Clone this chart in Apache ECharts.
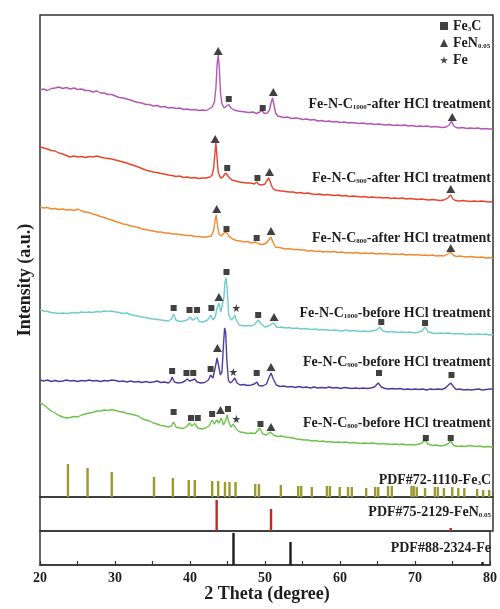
<!DOCTYPE html>
<html><head><meta charset="utf-8">
<script src="https://cdn.jsdelivr.net/npm/echarts@6/dist/echarts.min.js"></script>
<style>html,body{margin:0;padding:0;background:#fff}#c{width:500px;height:609px}</style>
</head><body><div id="c"></div>
<script>
// 2θ (degree) vs offset intensity (a.u.)
const c1000After = [[20,407],[20.5,408],[21,406.5],[21.5,408.5],[22,409],[22.5,410],[23,408.5],[23.5,409.5],[24,408],[24.5,409],[25,407.5],[25.5,408],[26,406.5],[26.5,406.5],[27,405],[27.5,406],[28,404],[28.5,404],[29,402.5],[29.5,402.5],[30,401],[30.5,399.5],[31,399],[31.5,398],[32,397],[32.5,395.5],[33,394.5],[33.5,394],[34,392.5],[34.5,392.5],[35,391],[35.5,391.5],[36,390],[36.5,390.5],[37,389],[37.5,389.5],[38,388.5],[38.5,389],[39,387.5],[39.5,388],[40,387],[40.5,387.5],[41,386.5],[41.5,387],[42,386.5],[42.5,388.5],[42.8,390],[43.1,395],[43.3,409],[43.45,432],[43.6,442],[43.75,429],[43.9,405],[44.1,393],[44.4,389],[44.7,391],[45,392.5],[45.3,389],[45.7,387],[46.2,386],[46.7,385.5],[47.2,385],[47.7,384.5],[48.2,385],[48.7,383.5],[49.1,385],[49.4,386.5],[49.7,383.5],[50.1,384],[50.4,387],[50.6,394],[50.8,399],[51,392],[51.2,384],[51.5,381],[51.8,380.5],[52.3,379.5],[52.8,380],[53.3,378.5],[53.8,379],[54.3,378.5],[54.8,377.5],[55.3,378],[55.8,377],[56.3,377.5],[56.8,376],[57.3,376.5],[57.8,375.5],[58.3,376],[58.8,375],[59.3,375.5],[59.8,374.5],[60.3,375],[60.8,374],[61.3,374.5],[61.8,374],[62.3,373.5],[62.8,374],[63.3,373],[63.8,373.5],[64.3,372.5],[64.8,373],[65.3,372.5],[65.8,372],[66.3,372.5],[66.8,371.5],[67.3,372],[67.8,371.5],[68.3,372],[68.8,371],[69.3,371.5],[69.8,370.5],[70.3,371],[70.8,370.5],[71.3,371],[71.8,370],[72.3,370.5],[72.8,370],[73.3,369.5],[73.8,370],[74.2,372],[74.5,376],[74.8,371],[75.1,369.5],[75.5,369],[76,369.5],[76.5,368.5],[77,369],[77.5,368.5],[78,369],[78.5,368],[79,368.5],[79.5,368],[80,368]];
const c900After = [[20,350],[20.5,349],[21,348],[21.5,346.5],[22,346],[22.5,344],[23,343],[23.5,341.5],[24,340],[24.5,341],[25,340],[25.5,340.5],[26,339.5],[26.5,340.5],[27,340],[27.5,341],[28,340],[28.5,339],[29,338.5],[29.5,338],[30,337],[30.5,336],[31,335],[31.5,334],[32,332.5],[32.5,331.5],[33,330],[33.5,328.5],[34,327],[34.5,326],[35,325],[35.5,324.5],[36,323.5],[36.5,323],[37,322],[37.5,321.5],[38,320.5],[38.5,321],[39,319.5],[39.5,320],[40,319],[40.5,319.5],[41,318.5],[41.5,319],[42,319],[42.5,320],[42.8,322],[43,329],[43.15,342],[43.3,354],[43.45,339],[43.6,325],[43.9,319],[44.2,320],[44.6,324],[45,320],[45.4,317],[45.9,316],[46.4,315],[46.9,314.5],[47.4,314],[47.9,314],[48.4,313],[48.7,315],[49,312.5],[49.4,312],[49.8,313],[50,316],[50.3,319],[50.5,315],[50.8,309],[51.1,307],[51.5,306.5],[52,306],[52.5,305.5],[53,305],[53.5,305],[54,304],[54.5,304.5],[55,303.5],[55.5,304],[56,303],[56.5,302.5],[57,303],[57.5,302],[58,302.5],[58.5,302],[59,301.5],[59.5,302],[60,301],[60.5,301.5],[61,300.5],[61.5,301],[62,300.5],[62.5,300],[63,300.5],[63.5,299.5],[64,300],[64.5,299.5],[65,299.5],[65.5,299],[66,299.5],[66.5,298.5],[67,299],[67.5,298.5],[68,299],[68.5,298],[69,298.5],[69.5,298],[70,297.5],[70.5,298],[71,297.5],[71.5,297],[72,297.5],[72.5,297],[73,296.5],[73.5,297],[74,299],[74.4,302],[74.7,298],[75,296.5],[75.5,296],[76,296.5],[76.5,296],[77,295.5],[77.5,296],[78,295.5],[78.5,296],[79,295.5],[79.5,295],[80,295.5]];
const c800After = [[20,290],[20.5,289],[21,289.5],[21.5,288],[22,288.5],[22.5,287.5],[23,288],[23.5,287],[24,287.5],[24.5,286.5],[25,288],[25.5,286],[26,285],[26.5,284.5],[27,283],[27.5,282],[28,280.5],[28.5,279.5],[29,278],[29.5,277],[30,275.5],[30.5,274.5],[31,273],[31.5,272.5],[32,271],[32.5,270.5],[33,269.5],[33.5,268],[34,267.5],[34.5,266.5],[35,266],[35.5,265],[36,265],[36.5,264],[37,264],[37.5,263],[38,263],[38.5,262.5],[39,262],[39.5,261.5],[40,261.5],[40.5,260.5],[41,260.5],[41.5,260],[42,260],[42.7,261],[43,267],[43.2,277],[43.35,282],[43.5,272],[43.7,263],[44,261],[44.4,264],[44.7,265],[45,261],[45.5,258],[46,256.5],[46.5,256],[47,255],[47.5,255.5],[48,254],[48.6,255],[49,253],[49.5,252.5],[50,254],[50.3,257],[50.6,260],[50.9,254],[51.2,250],[51.6,249.5],[52,249],[52.5,248],[53,248.5],[53.5,247.5],[54,247.5],[54.5,247],[55,247],[55.5,246],[56,246.5],[56.5,245.5],[57,246],[57.5,245],[58,245.5],[58.5,245],[59,245.5],[59.5,244.5],[60,245],[60.5,244],[61,244.5],[61.5,244],[62,244.5],[62.5,243.5],[63,244],[63.5,243.5],[64,244],[64.5,243],[65,243.5],[65.5,243],[66,243.5],[66.5,242.5],[67,243],[67.5,242.5],[68,243],[68.5,242],[69,242.5],[69.5,242],[70,242.5],[70.5,241.5],[71,242],[71.5,241.5],[72,242],[72.5,241],[73,241.5],[73.5,241],[74,243],[74.4,245],[74.8,241.5],[75.2,240.5],[75.6,241],[76,240.5],[76.5,240],[77,240.5],[77.5,240],[78,239.5],[78.5,240],[79,239],[79.5,239.5],[80,239]];
const c1000Before = [[20,187],[20.5,186],[21,185.5],[21.5,184.5],[22,184],[22.5,183.5],[23,184],[23.5,183.5],[24,184],[24.5,184.5],[25,184],[25.5,185],[26,184.5],[26.5,185],[27,184.5],[27.5,185.5],[28,185],[28.5,186],[29,185.5],[29.5,186],[30,185],[30.5,184.5],[31,183.5],[31.5,184],[32,182.5],[32.5,181.5],[33,181],[33.5,180],[34,179.5],[34.5,178.5],[35,178],[35.5,177.5],[36,177],[36.5,176.5],[37,176],[37.4,178],[37.7,183],[38,177],[38.5,175.5],[39,176],[39.5,177],[39.9,180],[40.2,177],[40.5,178],[40.8,180],[41.1,175.5],[41.6,175],[42.2,177],[42.6,182],[42.9,177],[43.2,180],[43.45,189],[43.7,194],[43.95,185],[44.15,183],[44.35,199],[44.5,215],[44.65,219],[44.8,207],[45,182],[45.3,177],[45.6,179],[45.8,182],[46,177],[46.4,172],[47,171],[47.5,171.5],[48,171],[48.5,173],[48.9,177],[49.3,173],[49.8,170],[50.3,171],[50.9,174],[51.4,169.5],[52,170],[52.5,169],[53,169.5],[53.5,168.5],[54,169],[54.5,168],[55,168.5],[55.5,168],[56,167.5],[56.5,168],[57,167],[57.5,167.5],[58,167],[58.5,166.5],[59,167],[59.5,166.5],[60,166],[60.5,167],[61,166],[61.5,166.5],[62,166],[62.5,165.5],[63,166],[63.5,165.5],[64,166],[64.6,167],[65,170],[65.4,166],[66,165],[66.5,165.5],[67,165],[67.5,164.5],[68,165],[68.5,164.5],[69,165],[69.5,164],[70,164.5],[70.6,166],[71,170],[71.4,165],[72,164],[72.5,163.5],[73,164],[73.5,163.5],[74,164],[74.5,163.5],[75,163],[75.5,163.5],[76,163],[76.5,162.5],[77,163],[77.5,162.5],[78,163],[78.5,162.5],[79,163],[79.5,162],[80,162.5]];
const c900Before = [[20,117],[20.5,116],[21,117],[21.5,115.5],[22,116.5],[22.5,115.5],[23,116],[23.5,117],[24,116],[24.5,116.5],[25,115.5],[25.5,116.5],[26,116],[26.5,117],[27,116],[27.5,116.5],[28,115.5],[28.5,116.5],[29,116],[29.5,117],[30,116.5],[30.5,115.5],[31,116],[31.5,115],[32,116],[32.5,115],[33,115.5],[33.5,114.5],[34,115.5],[34.5,114.5],[35,115],[35.5,116],[36,114.5],[36.5,115],[37,114],[37.3,116],[37.5,120],[37.8,115],[38.3,114],[38.8,114.5],[39.2,116],[39.5,118],[39.8,116],[40.2,117],[40.5,118],[40.8,115],[41.3,114],[41.8,114.5],[42.3,117],[42.6,122],[42.9,119],[43.2,129],[43.45,139],[43.65,137],[43.9,122],[44.1,125],[44.3,152],[44.45,169],[44.6,164],[44.75,137],[44.95,117],[45.2,114],[45.5,116],[45.8,119],[46.1,114],[46.5,112],[47,112.5],[47.5,111.5],[48,112],[48.4,113],[48.7,115],[49,111.5],[49.5,111],[50,113],[50.3,119],[50.6,124],[50.9,118],[51.3,112],[51.8,110.5],[52.3,111],[52.8,110],[53.3,110.5],[53.8,109.5],[54.3,110.5],[54.8,109.5],[55.3,110],[55.8,109],[56.3,110],[56.8,109],[57.3,109.5],[57.8,109],[58.3,110],[58.8,109],[59.3,109.5],[59.8,108.5],[60.3,109.5],[60.8,109],[61.3,108.5],[61.8,109],[62.3,108.5],[62.8,109],[63.3,108.5],[63.8,109],[64.3,110],[64.8,114],[65.2,110],[65.7,108.5],[66.2,108],[66.7,108.5],[67.2,108],[67.7,108.5],[68.2,107.5],[68.7,108],[69.2,107.5],[69.7,108],[70.2,107.5],[70.7,108],[71.2,107],[71.7,108],[72.2,107.5],[72.7,108],[73.2,107.5],[73.7,109],[74.1,112],[74.4,114],[74.7,111],[75.1,107.5],[75.6,108],[76.1,107],[76.6,107.5],[77.1,107],[77.6,107.5],[78.1,108],[78.6,107],[79.1,107.5],[79.6,108],[80,108]];
const c800Before = [[20,94],[20.3,93],[20.7,91],[21,89],[21.5,86],[22,84],[22.5,81.5],[23,80],[23.5,79],[24,79.5],[24.5,80.5],[25,80],[25.5,82],[26,83],[26.5,84],[27,84.5],[27.5,86],[28,86],[28.5,87],[29,86.5],[29.5,87.5],[30,86.5],[30.5,85.5],[31,85],[31.5,83.5],[32,83],[32.5,82],[33,81],[33.5,78.5],[34,77],[34.5,76],[35,74],[35.5,73],[36,71.5],[36.5,71],[37,70],[37.4,71],[37.7,75],[38,70],[38.5,69],[39,68.5],[39.5,71],[39.8,74],[40.1,71],[40.5,73.5],[40.9,69],[41.4,68],[41.9,69],[42.4,71],[42.8,77],[43.1,73],[43.4,77],[43.7,74],[44,79],[44.3,72],[44.6,77],[44.8,82],[45,75],[45.3,70],[45.6,73],[45.8,75],[46.1,67],[46.5,65],[47,64.5],[47.5,63.5],[48,64],[48.5,63.5],[49.1,69],[49.5,63],[50,62],[50.5,65],[51,61.5],[51.5,60.5],[52,61],[52.5,60],[53,59.5],[53.5,59],[54,58],[54.5,57.5],[55,57],[55.5,57],[56,56],[56.5,56.5],[57,55.5],[57.5,56],[58,55],[58.5,55.5],[59,54.5],[59.5,55],[60,54.5],[60.5,55],[61,54],[61.5,54.5],[62,54],[62.5,53.5],[63,54],[63.5,53.5],[64,54],[64.5,53.5],[65,53],[65.5,53.5],[66,53],[66.5,52.5],[67,53],[67.5,52.5],[68,53],[68.5,52],[69,52.5],[69.5,52],[70,52.5],[70.6,54],[71,57],[71.4,53],[72,51.5],[72.5,52],[73,51],[73.5,51.5],[74,53],[74.4,56],[74.8,51.5],[75.3,50.5],[75.8,51],[76.3,50.5],[76.8,51.5],[77.3,51],[77.8,50.5],[78.3,51],[78.8,50],[79.3,50.5],[79.8,50],[80,50]];

// phase markers [2θ, height]
const fe3cMarks = [[45.0,398],[49.5,389],[44.8,329],[48.8,319],[44.7,268],[48.7,259],
  [37.7,189],[39.8,187],[40.8,187],[42.7,189],[44.7,225],[48.9,182],[65.2,175],[71.0,174],
  [37.5,126],[39.4,124],[40.3,124],[42.6,128],[48.7,124],[64.9,124],[74.5,122],
  [37.7,85],[40.0,79],[40.9,79],[42.8,83],[44.9,88],[49.2,73],[71.1,59],[74.4,59]];
const feNMarks = [[43.6,446],[50.9,405],[74.6,380],[43.2,358],[50.4,325],[74.4,308],[43.4,288],[50.6,266],[74.4,249],
  [43.7,200],[51.0,180],[43.5,149],[50.6,130],[43.9,87],[50.6,70]];
const feMarks = [[46.0,189],[45.6,125],[46.0,78]];

// reference patterns [2θ, relative height]
const pdfFe3C = [[23.7,33],[26.3,29],[29.5,25],[35.1,20],[37.6,19],[39.7,17],[40.5,17],[42.8,16],[43.6,16],[44.5,15],[45.1,15],[45.9,15],[48.5,13],[49.0,13],[51.9,12],[54.2,11],[54.6,11],[56.0,10],[58.0,11],[58.4,11],[59.7,10],[60.8,10],[61.3,10],[63.2,9],[64.4,10],[64.8,10],[66.1,11],[66.6,11],[69.2,11],[69.5,11],[69.9,10],[71.0,9],[72.3,10],[72.7,10],[73.5,9],[74.6,10],[75.4,9],[76.2,9],[77.9,8],[78.7,7],[79.5,7]];
const pdfFeN = [[43.4,31],[50.6,22],[74.4,3]];
const pdfFe = [[45.8,32],[53.4,23],[79.0,3]];

const xTicks = {min:20, max:80, interval:10};
const curveNames = ['Fe-N-C1000-after HCl treatment','Fe-N-C900-after HCl treatment','Fe-N-C800-after HCl treatment','Fe-N-C1000-before HCl treatment','Fe-N-C900-before HCl treatment','Fe-N-C800-before HCl treatment'];
const curveLabels = ['Fe-N-C{s|1000}-after HCl treatment','Fe-N-C{s|900}-after HCl treatment','Fe-N-C{s|800}-after HCl treatment','Fe-N-C{s|1000}-before HCl treatment','Fe-N-C{s|900}-before HCl treatment','Fe-N-C{s|800}-before HCl treatment'];
const pdfLabels = ['PDF#72-1110-Fe{s|3}C','PDF#75-2129-FeN{s|0.05}','PDF#88-2324-Fe'];

const FF = '"Liberation Serif","Times New Roman",serif';
const TXT = '#1e1e1e';
const STAR = 'path://M50,0 L61,35 L98,35 L68,57 L79,91 L50,70 L21,91 L32,57 L2,35 L39,35 Z';
const colors = ['#b457b4','#e8452c','#f08c30','#72cccc','#4b3f9e','#6fc24c'];
const datasets = [c1000After,c900After,c800After,c1000Before,c900Before,c800Before];

const chart = echarts.init(document.getElementById('c'), null, {renderer:'canvas'});
const subRich = {s:{fontSize:7, fontWeight:'bold', fontFamily:FF, fill:TXT, verticalAlign:'bottom', padding:[7,0,0,0]}};
function label(text, y){
  return {type:'text', z:100, style:{text:text, x:491, y:y, align:'right', verticalAlign:'middle',
    fontSize:14, fontWeight:'bold', fontFamily:FF, fill:TXT, rich:subRich}};
}
const labelY = [104,178,238,313,362,423];
const pdfY = [480,512,548];
const graphics = [];
curveLabels.forEach((t,i)=>graphics.push(label(t,labelY[i])));
pdfLabels.forEach((t,i)=>graphics.push(label(t,pdfY[i])));
graphics.push({type:'text', z:100, rotation:Math.PI/2, x:25, y:280, style:{text:'Intensity (a.u.)', align:'center', verticalAlign:'middle', fontSize:18, fontWeight:'bold', fontFamily:FF, fill:TXT}});
graphics.push({type:'text', z:100, x:267, y:594, style:{text:'2 Theta (degree)', align:'center', verticalAlign:'middle', fontSize:18, fontWeight:'bold', fontFamily:FF, fill:TXT}});

const grids = [
  {left:40, right:7, top:15, height:482},
  {left:40, right:7, top:497, height:34},
  {left:40, right:7, top:531, height:34}
].map(g=>Object.assign(g,{show:true, borderColor:'#333', borderWidth:1.5, backgroundColor:'transparent'}));

const xAxes = [0,1,2].map(i=>({type:'value', gridIndex:i, min:xTicks.min, max:xTicks.max, interval:xTicks.interval,
  axisLine:{show:i===2, lineStyle:{color:'#333', width:1.5}},
  axisTick:{show:i===2, inside:true, length:4, lineStyle:{color:'#333', width:1.2}},
  minorTick:{show:i===2, splitNumber:2, length:4, lineStyle:{color:'#333', width:1.2}},
  splitLine:{show:false},
  axisLabel:{show:i===2, fontSize:14, fontWeight:'bold', fontFamily:FF, color:TXT, margin:6}
}));
const yAxes = [[0,482],[0,34],[0,34]].map((r,i)=>({type:'value', gridIndex:i, min:r[0], max:r[1], show:false}));

const series = [];
datasets.forEach((d,i)=>series.push({type:'line', name:curveNames[i], xAxisIndex:0, yAxisIndex:0, data:d, symbol:'none',
  lineStyle:{color:colors[i], width:1.4}, silent:true, z:2, legendHoverLink:false}));
series.push({type:'bar', name:'PDF#72-1110', xAxisIndex:0, yAxisIndex:0, data:pdfFe3C, barWidth:2.4, itemStyle:{color:'#9c9a2c'}, z:1, silent:true});
series.push({type:'bar', name:'PDF#75-2129', xAxisIndex:1, yAxisIndex:1, data:pdfFeN, barWidth:2.4, itemStyle:{color:'#c0282c'}, silent:true});
series.push({type:'bar', name:'PDF#88-2324', xAxisIndex:2, yAxisIndex:2, data:pdfFe, barWidth:2.4, itemStyle:{color:'#1a1a1a'}, silent:true});
series.push({type:'scatter', name:'Fe3C', xAxisIndex:0, yAxisIndex:0, data:fe3cMarks, symbol:'rect', symbolSize:6, itemStyle:{color:'#111'}, z:5, silent:true});
series.push({type:'scatter', name:'FeN0.05', xAxisIndex:0, yAxisIndex:0, data:feNMarks, symbol:'triangle', symbolSize:[9,8], itemStyle:{color:'#111'}, z:5, silent:true});
series.push({type:'scatter', name:'Fe', xAxisIndex:0, yAxisIndex:0, data:feMarks, symbol:STAR, symbolSize:8, itemStyle:{color:'#111'}, z:5, silent:true});

chart.setOption({
  animation:false,
  backgroundColor:'#fff',
  grid:grids, xAxis:xAxes, yAxis:yAxes, series:series,
  legend:{data:['Fe3C','FeN0.05','Fe'], orient:'vertical', left:440, top:19, itemGap:3, itemWidth:8, itemHeight:8,
    selectedMode:false, padding:0,
    formatter:n=> n==='Fe3C' ? 'Fe{s|3}C' : (n==='FeN0.05' ? 'FeN{s|0.05}' : 'Fe'),
    textStyle:{fontSize:14, fontWeight:'bold', fontFamily:FF, color:TXT, rich:{s:{fontSize:7, fontWeight:'bold', fontFamily:FF, color:TXT, verticalAlign:'bottom', padding:[7,0,0,0]}}}},
  graphic:graphics
});
</script></body></html>
